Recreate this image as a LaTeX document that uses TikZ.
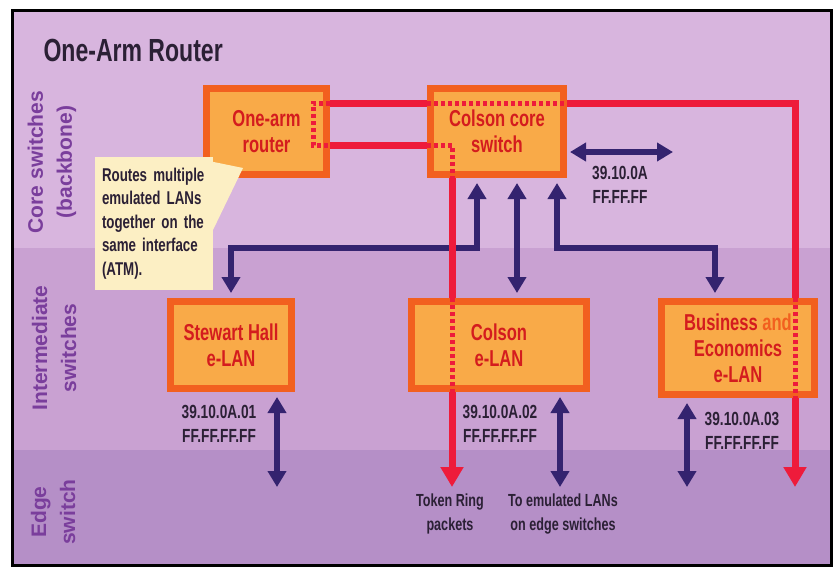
\documentclass[tikz,border=0pt]{standalone}
\usepackage{fontspec}
\setmainfont{Liberation Sans}
\newfontfamily\narrowfont{Liberation Sans}[FakeStretch=0.72]
\usetikzlibrary{arrows.meta,calc}

\definecolor{coreband}{HTML}{D8B5DE}
\definecolor{midband}{HTML}{C9A1D2}
\definecolor{edgeband}{HTML}{B58FC7}
\definecolor{boxfill}{HTML}{F9AA48}
\definecolor{boxedge}{HTML}{F2601F}
\definecolor{boxtext}{HTML}{D41C1E}
\definecolor{wire}{HTML}{EE1B3B}
\definecolor{link}{HTML}{34236F}
\definecolor{ink}{HTML}{2B2035}
\definecolor{bandtext}{HTML}{7A3E9C}
\definecolor{notefill}{HTML}{FCEFC4}

\tikzset{
	elan/.style={draw=boxedge, line width=7pt, fill=boxfill, text=boxtext, align=center, inner sep=0pt, font=\narrowfont\bfseries\fontsize{23}{26}\selectfont},
	redline/.style={draw=wire, line width=7pt},
	redin/.style={draw=wire, line width=5pt, dash pattern=on 4pt off 3pt},
	redarrow/.style={redline, -{Triangle[width=22pt,length=20pt]}},
	bluearrow/.style={draw=link, line width=6pt, {Triangle[width=18pt,length=16pt]}-{Triangle[width=18pt,length=16pt]}},
	addr/.style={text=ink, align=center, font=\narrowfont\bfseries\fontsize{19}{24}\selectfont},
	bandlabel/.style={text=bandtext, rotate=90, align=center, font=\bfseries\fontsize{21}{29}\selectfont},
	callout/.style={fill=notefill, text=ink, align=left, text width=104pt, minimum width=118pt, minimum height=133pt, inner xsep=7pt, font=\narrowfont\bfseries\fontsize{18.5}{23.5}\selectfont}
}

\begin{document}
\begin{tikzpicture}[x=1pt, y=-1pt]
		\useasboundingbox (0,0) rectangle (837,568);
		\fill [white] (0,0) rectangle (837,568);
		\fill [coreband] (12,10) rectangle (831,248);
		\fill [midband] (12,248) rectangle (831,450);
		\fill [edgeband] (12,450) rectangle (831,565);
		\draw [line width=3pt, black] (12,10) rectangle (831,565);

		\node [anchor=west, text=ink, font=\narrowfont\bfseries\fontsize{32}{36}\selectfont] (title) at (40,50) {One-Arm Router};
		\node [bandlabel] (corelbl) at (52,162) {Core switches\\(backbone)};
		\node [bandlabel] (midlbl) at (54,348) {Intermediate\\switches};
		\node [bandlabel] (edgelbl) at (53,512) {Edge\\switch};

		\node [elan, minimum width=120pt, minimum height=86pt] (router) at (266.5,131.5) {One-arm\\router};
		\node [elan, minimum width=133pt, minimum height=86pt] (core) at (497,131.5) {Colson core\\switch};
		\node [elan, minimum width=121pt, minimum height=87pt] (stewart) at (231,345) {Stewart Hall\\e-LAN};
		\node [elan, minimum width=175pt, minimum height=87pt] (colson) at (499,345) {Colson\\e-LAN};
		\node [elan, minimum width=153pt, minimum height=93pt] (bus) at (738,348) {Business {\color{boxedge}and}\\Economics\\e-LAN};

		\coordinate (lvl) at (0,248);
		\coordinate (c1) at ($(core.south west)+(50,5)$);
		\coordinate (c3) at ($(core.south east)+(-10,5)$);
		\coordinate (tip0) at (673,152);
		\coordinate (tip1) at (277,487);
		\coordinate (tip2) at (452,487);
		\coordinate (tip3) at (795,487);
		\coordinate (tip4) at (560,487);
		\coordinate (tip5) at (687,487);

		\draw [bluearrow] ($(core.east)+(3,20.5)$) -- (tip0);
		\draw [bluearrow] (c1) -- (c1 |- lvl) -| ($(stewart.north)+(0,-5)$);
		\draw [bluearrow] ($(core.south)+(20,5)$) -- ($(colson.north)+(18,-5)$);
		\draw [bluearrow] (c3) -- (c3 |- lvl) -| ($(bus.north)+(-23,-5)$);
		\draw [bluearrow] ($(stewart.south)+(46,5)$) -- (tip1);
		\draw [bluearrow] ($(colson.south)+(61,5)$) -- (tip4);
		\draw [bluearrow] ($(bus.south)+(-51,5)$) -- (tip5);

		\draw [redline] ($(router.north east)+(0,18)$) -- ($(core.north west)+(0,18)$);
		\draw [redin] ($(router.north east)+(0,18)$) -- ($(router.north east)+(-17,18)$) -- ($(router.south east)+(-17,-33)$) -- ($(router.south east)+(0,-33)$);
		\draw [redin] ($(core.north west)+(0,18)$) -- ($(core.north east)+(0,18)$);
		\draw [redline] ($(core.north east)+(0,18)$) -| ($(bus.north east)+(-23,0)$);
		\draw [redin] ($(bus.north east)+(-23,0)$) -- ($(bus.south east)+(-23,0)$);
		\draw [redarrow] ($(bus.south east)+(-23,0)$) -- (tip3);

		\draw [redline] ($(router.south east)+(0,-33)$) -- ($(core.south west)+(0,-33)$);
		\draw [redin] ($(core.south west)+(0,-33)$) -- ($(core.south west)+(25,-33)$) -- ($(core.south west)+(25,0)$);
		\draw [redline] ($(core.south west)+(25,0)$) -- ($(colson.north west)+(44,0)$);
		\draw [redin] ($(colson.north west)+(44,0)$) -- ($(colson.south west)+(44,0)$);
		\draw [redarrow] ($(colson.south west)+(44,0)$) -- (tip2);

		\node [addr] (addr0) at (620,185) {39.10.0A\\FF.FF.FF};
		\node [addr] (addr1) at (219,424) {39.10.0A.01\\FF.FF.FF.FF};
		\node [addr] (addr2) at (500,424) {39.10.0A.02\\FF.FF.FF.FF};
		\node [addr] (addr3) at (742,431) {39.10.0A.03\\FF.FF.FF.FF};
		\node [addr, font=\narrowfont\bfseries\fontsize{17.5}{24}\selectfont] (token) at (450,514) {Token Ring\\packets};
		\node [addr, font=\narrowfont\bfseries\fontsize{17.5}{24}\selectfont] (edgeto) at (563,514) {To emulated LANs\\on edge switches};

		\coordinate (notetop) at (154,157);
		\fill [notefill] ($(notetop)+(50,3)$) -- ($(router.south west)+(40,-10)$) -- ($(notetop)+(59,73)$) -- cycle;
		\node [callout, anchor=north] (note) at (notetop) {Routes multiple\\emulated LANs\\together on the\\same interface\\(ATM).};
	\end{tikzpicture}
\end{document}
